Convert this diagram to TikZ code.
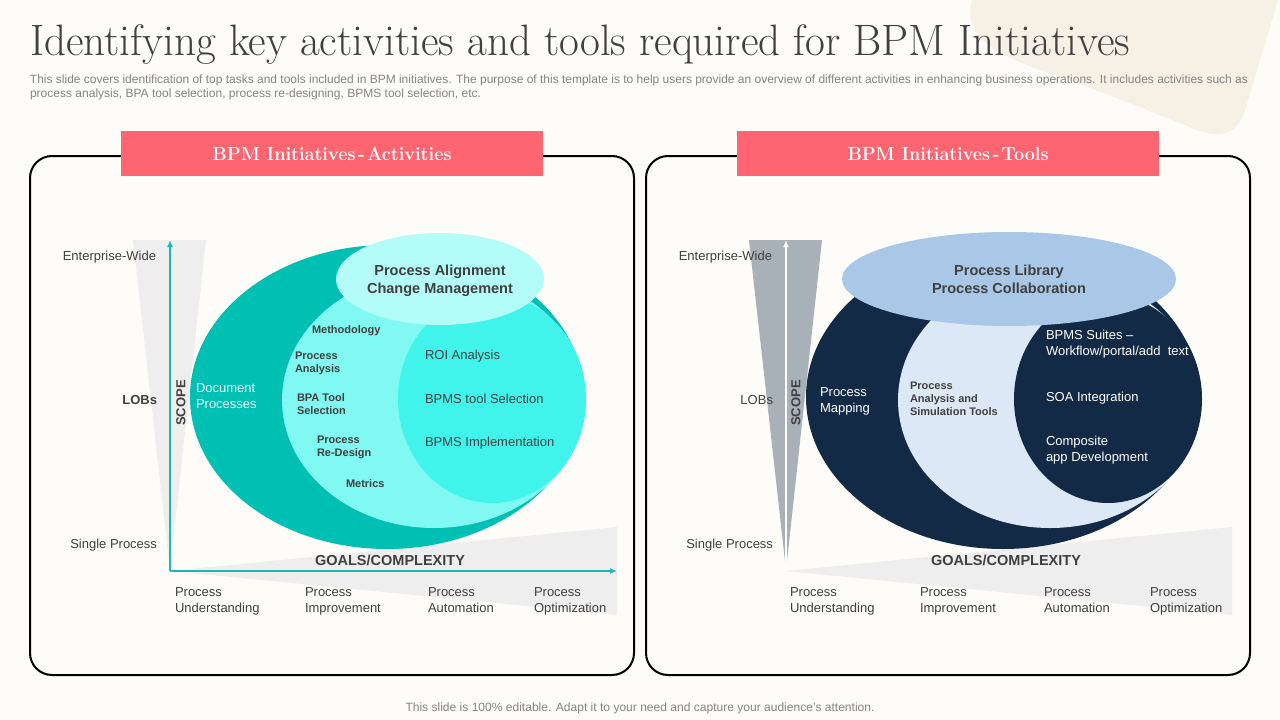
\documentclass[tikz,border=0pt]{standalone}
\usepackage{fontspec}
\setsansfont{Liberation Sans}
\usetikzlibrary{arrows.meta}
\definecolor{bg}{HTML}{FDFCF8}
\definecolor{blob}{HTML}{F5F2E5}
\definecolor{titletxt}{HTML}{404040}
\definecolor{subtxt}{HTML}{858585}
\definecolor{banner}{HTML}{FF6570}
\definecolor{lbltxt}{HTML}{404040}
\definecolor{tri}{HTML}{EEEEEE}
\definecolor{trigrey}{HTML}{A8B0B8}
\definecolor{axis}{HTML}{1CB8B4}
\definecolor{tealA}{HTML}{00BFB3}
\definecolor{tealB}{HTML}{80F9F2}
\definecolor{tealC}{HTML}{40F4EB}
\definecolor{tealD}{HTML}{B4FCF8}
\definecolor{navy}{HTML}{132A46}
\definecolor{blueB}{HTML}{DDE8F6}
\definecolor{blueD}{HTML}{A9C7E7}
\definecolor{docwhite}{HTML}{E8FFFD}
\tikzset{
  struts/.style={execute at begin node={\strut}, execute at end node={\strut}},
  lbl/.style={font=\sffamily\fontsize{13}{16}\selectfont, text=lbltxt, align=left, struts},
  lblb/.style={font=\sffamily\bfseries\fontsize{13}{16}\selectfont, text=lbltxt, align=left, struts},
  small/.style={font=\sffamily\bfseries\fontsize{11}{13}\selectfont, text=lbltxt, align=left, struts},
  topt/.style={font=\sffamily\bfseries\fontsize{14.5}{18}\selectfont, text=lbltxt, align=center, struts},
  goals/.style={font=\sffamily\bfseries\fontsize{14.5}{17}\selectfont, text=lbltxt},
  scope/.style={font=\sffamily\bfseries\fontsize{13}{16}\selectfont, text=lbltxt, rotate=90},
  wtxt/.style={font=\sffamily\fontsize{13}{16}\selectfont, text=white, align=left, struts},
  panel/.style={draw=black, line width=2pt, rounded corners=22pt},
  bannerbox/.style={fill=banner, minimum width=422pt, minimum height=45pt, text=white},
  tealarrow/.style={draw=axis, line width=1.3pt, -{Latex[length=7pt,width=6pt]}},
  whitearrow/.style={draw=white, line width=1.3pt, -{Latex[length=7pt,width=6pt]}},
}
\begin{document}
\begin{tikzpicture}[x=1pt,y=-1pt, every node/.style={inner sep=0pt, outer sep=0pt}]
\useasboundingbox (0,0) rectangle (1280,720);
\fill[bg] (0,0) rectangle (1280,720);
% decorative blob
\fill[blob] (972,0) .. controls (962,40) and (1000,58) .. (1070,80)
  -- (1185,125) .. controls (1215,140) and (1240,140) .. (1248,100)
  -- (1278,0) -- cycle;
% title and subtitle
\node[anchor=west, text=titletxt] (title) at (30,45)
  {\resizebox{1100pt}{\height}{\rmfamily\fontsize{44}{50}\selectfont Identifying key activities and tools required for BPM Initiatives}};
\node[anchor=west, text=subtxt] (sub1) at (30,80)
  {\resizebox{1218pt}{\height}{\sffamily\fontsize{12}{14}\selectfont This slide covers identification of top tasks and tools included in BPM initiatives. The purpose of this template is to help users provide an overview of different activities in enhancing business operations. It includes activities such as}};
\node[anchor=west, text=subtxt] (sub2) at (30,94)
  {\resizebox{451pt}{\height}{\sffamily\fontsize{12}{14}\selectfont process analysis, BPA tool selection, process re-designing, BPMS tool selection, etc.}};
\node[text=subtxt] (foot) at (640,708)
  {\resizebox{469pt}{\height}{\sffamily\fontsize{12}{14}\selectfont This slide is 100\% editable. Adapt it to your need and capture your audience’s attention.}};

% panels
\draw[panel] (30,156) rectangle (634,675);
\draw[panel] (646,156) rectangle (1250,675);
\node[bannerbox] (ban1) at (332,153.5)
  {\resizebox{239pt}{\height}{\rmfamily\bfseries\fontsize{19}{22}\selectfont BPM Initiatives\hspace{0.15em}-\hspace{0.12em}Activities}};
\node[bannerbox] (ban2) at (948,153.5)
  {\resizebox{201pt}{\height}{\rmfamily\bfseries\fontsize{19}{22}\selectfont BPM Initiatives\hspace{0.15em}-\hspace{0.12em}Tools}};

% ---------- LEFT PANEL ----------
\fill[tri] (133,240) -- (206,240) -- (170,570) -- cycle;
\fill[tri] (170,571) -- (617,527) -- (617,615) -- cycle;
\coordinate (lO) at (170,571);
\coordinate (lY) at (170,240);
\coordinate (lX) at (617,571);
\draw[tealarrow] (lO) -- (lY);
\draw[tealarrow] (lO) -- (lX);

\fill[tealA] (387,397) ellipse [x radius=197, y radius=152];
\fill[tealB] (434,400) ellipse [x radius=152, y radius=128];
\fill[tealC] (492,399) ellipse [x radius=94, y radius=104];
\fill[tealD] (440,279) ellipse [x radius=104, y radius=46];
\node[topt] (ltop) at (440,281.6) {Process Alignment\\Change Management};

\node[lbl, anchor=east] (lent) at (156,257) {Enterprise-Wide};
\node[lblb, anchor=east] (llob) at (157,401) {LOBs};
\node[lbl, anchor=east] (lsing) at (157,545) {Single Process};
\node[scope] (lscope) at (181,403) {SCOPE};
\node[font=\sffamily\fontsize{13}{16}\selectfont, text=docwhite, align=left, anchor=west, struts] (ldoc) at (196,398) {Document\\Processes};

\node[small, anchor=west] (lmeth) at (312,330.4) {Methodology};
\node[small, anchor=west] (lpa) at (295,363.9) {Process\\Analysis};
\node[small, anchor=west] (lbpa) at (297,405.9) {BPA Tool\\Selection};
\node[small, anchor=west] (lred) at (317,447.9) {Process\\Re-Design};
\node[small, anchor=west] (lmet) at (346,484.4) {Metrics};

\node[lbl, anchor=west] (lroi) at (425,356) {ROI Analysis};
\node[lbl, anchor=west] (lsel) at (425,400) {BPMS tool Selection};
\node[lbl, anchor=west] (limp) at (425,443) {BPMS Implementation};

\node[goals] (lgoals) at (390,560) {GOALS/COMPLEXITY};
\node[lbl, anchor=west] (lb1) at (175,602.5) {Process\\Understanding};
\node[lbl, anchor=west] (lb2) at (305,602.5) {Process\\Improvement};
\node[lbl, anchor=west] (lb3) at (428,602.5) {Process\\Automation};
\node[lbl, anchor=west] (lb4) at (534,602.5) {Process\\Optimization};

% ---------- RIGHT PANEL ----------
\fill[trigrey] (749,240) -- (822,240) -- (786,570) -- cycle;
\fill[tri] (786,571) -- (1232,527) -- (1232,615) -- cycle;
\coordinate (rO) at (786,570);
\coordinate (rY) at (786,240);
\draw[whitearrow] (rO) -- (rY);

\fill[navy] (1003,397) ellipse [x radius=197, y radius=152];
\fill[blueB] (1050,400) ellipse [x radius=152, y radius=128];
\fill[navy] (1108,399) ellipse [x radius=94, y radius=104];
\fill[blueD] (1009,279) ellipse [x radius=167, y radius=47];
\node[topt] (rtop) at (1009,281.6) {Process Library\\Process Collaboration};

\node[lbl, anchor=east] (rent) at (772,257) {Enterprise-Wide};
\node[lbl, anchor=east] (rlob) at (773,401) {LOBs};
\node[lbl, anchor=east] (rsing) at (773,545) {Single Process};
\node[scope] (rscope) at (796,403) {SCOPE};
\node[wtxt, anchor=west] (rmap) at (820,402) {Process\\Mapping};
\node[small, anchor=west] (rpa) at (910,400.4) {Process\\Analysis and\\Simulation Tools};
\node[wtxt, anchor=west] (rsuite) at (1046,345) {BPMS Suites –\\Workflow/portal/add\ \ text};
\node[wtxt, anchor=west] (rsoa) at (1046,398) {SOA Integration};
\node[wtxt, anchor=west] (rcomp) at (1046,451) {Composite\\app Development};

\node[goals] (rgoals) at (1006,560) {GOALS/COMPLEXITY};
\node[lbl, anchor=west] (rb1) at (790,602.5) {Process\\Understanding};
\node[lbl, anchor=west] (rb2) at (920,602.5) {Process\\Improvement};
\node[lbl, anchor=west] (rb3) at (1044,602.5) {Process\\Automation};
\node[lbl, anchor=west] (rb4) at (1150,602.5) {Process\\Optimization};
\end{tikzpicture}
\end{document}
